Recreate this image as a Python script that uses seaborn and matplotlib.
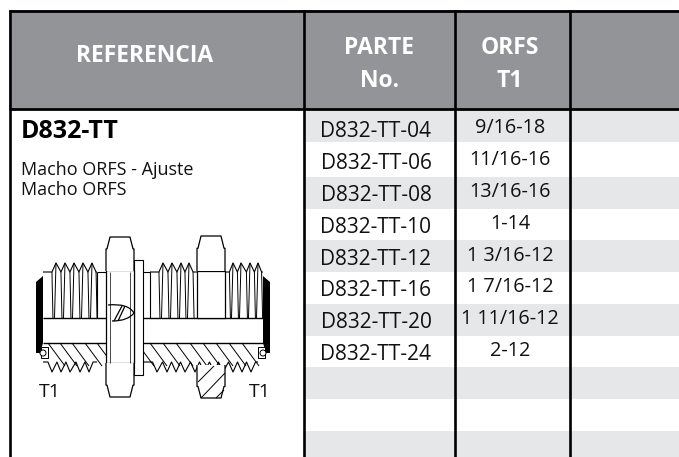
import matplotlib
matplotlib.use("Agg")
import matplotlib.pyplot as plt
from matplotlib.patches import Rectangle, Polygon, Circle, PathPatch
from matplotlib.path import Path
import numpy as np
import seaborn as sns

part_numbers = ["D832-TT-04", "D832-TT-06", "D832-TT-08", "D832-TT-10",
                "D832-TT-12", "D832-TT-16", "D832-TT-20", "D832-TT-24"]
t1_sizes = ["9/16-18", "11/16-16", "13/16-16", "1-14",
            "1 3/16-12", "1 7/16-12", "1 11/16-12", "2-12"]
band_flags = [1, 0, 1, 0, 1, 0, 1, 0, 1, 0, 1]
band_heights = [33, 35, 32, 31, 32, 32, 32, 31, 32, 32, 26]

W, H = 679, 457
HEADER_GREY = "#929497"
BAND_GREY = "#e6e7e8"
INK = "#000000"
TEXT = "#111111"

sns.set_theme(style="white")
plt.rcParams["font.family"] = ["Open Sans", "DejaVu Sans"]

fig = plt.figure(figsize=(W / 100, H / 100), dpi=100)

# striped rows, one matrix row per pixel so the uneven heights survive
band_ax = fig.add_axes([303 / W, 0, (W - 303) / W, (H - 109) / H])
stripes = np.repeat(band_flags, band_heights)[:, None]
sns.heatmap(stripes, ax=band_ax, cmap=["#ffffff", BAND_GREY], cbar=False,
            xticklabels=False, yticklabels=False, vmin=0, vmax=1)

ax = fig.add_axes([0, 0, 1, 1], zorder=2)
ax.set_xlim(0, W)
ax.set_ylim(H, 0)
ax.axis("off")
ax.patch.set_alpha(0)


def line(xs, ys, lw=0.8, color=INK, z=3):
    ax.plot(xs, ys, color=color, lw=lw, solid_capstyle="butt", zorder=z)


def threads_top(peaks, x0, x1, base=318, crest=263, root=272):
    xs, ys = [x0], [root]
    step = (peaks[1] - peaks[0]) / 2
    for p in peaks:
        xs += [p - step * 0.9, p]
        ys += [root, crest]
    xs += [peaks[-1] + step * 0.9, x1]
    ys += [root, root]
    line(xs, ys)
    for x, y in zip(xs[1:-1], ys[1:-1]):
        line([x, x - 1.5 if y == crest else x + 1], [y, base], lw=0.7)


def threads_bottom(roots, x0, x1, y0=362, root=372, crest=362):
    xs, ys = [x0], [y0]
    step = (roots[1] - roots[0]) / 2
    for p in roots:
        xs += [p - step * 0.9, p]
        ys += [crest, root]
    xs += [roots[-1] + step * 0.9, x1]
    ys += [crest, y0]
    line(xs, ys)


def hatch(x_starts, y0=343, dx=17, dy=23):
    for x in x_starts:
        line([x, x + dx], [y0, y0 + dy], lw=0.7)


def hex_cap(x0, x1, y_edge, y_tip):
    # rounded end of a nut seen from the side
    y_mid = y_tip + (y_edge - y_tip) * 0.35
    verts = [(x0, y_edge), (x0, y_mid), (x0 + 1, y_mid), (x0 + 4, y_tip),
             (x1 - 4, y_tip), (x1 - 1, y_mid), (x1, y_mid), (x1, y_edge)]
    codes = [Path.MOVETO, Path.LINETO, Path.LINETO, Path.LINETO,
             Path.LINETO, Path.LINETO, Path.LINETO, Path.LINETO]
    ax.add_patch(PathPatch(Path(verts, codes), fc="white", ec=INK, lw=0.9, zorder=5, joinstyle="round"))


# header block and grid lines
ax.add_patch(Rectangle((9, 10), W - 9, 99, fc=HEADER_GREY, ec="none", zorder=1))
line([9, W], [10.5, 10.5], lw=2.0, z=6)
line([9, W], [108.5, 108.5], lw=2.0, z=6)
for x in [9.5, 303.5, 454.5, 569.5]:
    line([x, x], [10, H], lw=1.9, z=6)

header_style = dict(color="white", fontweight="bold", ha="center", va="center", zorder=7)
ax.text(145, 55.5, "REFERENCIA", fontsize=16.5, **header_style)
ax.text(379, 47.5, "PARTE", fontsize=16.5, **header_style)
ax.text(379, 81, "No.", fontsize=16.5, **header_style)
ax.text(510, 47.5, "ORFS", fontsize=16.5, **header_style)
ax.text(510, 81, "T1", fontsize=16.5, **header_style)

# left cell text
ax.text(21, 131.5, "D832-TT", fontsize=18, fontweight="bold", color=INK, ha="left", va="center", zorder=7)
ax.text(21, 170, "Macho ORFS - Ajuste", fontsize=13, color=TEXT, ha="left", va="center", zorder=7)
ax.text(21, 190, "Macho ORFS", fontsize=13, color=TEXT, ha="left", va="center", zorder=7)

# table rows
for i, (part, size) in enumerate(zip(part_numbers, t1_sizes)):
    ax.text(376, 131.5 + 31.9 * i, part, fontsize=15, color=TEXT, ha="center", va="center", zorder=7)
    ax.text(510, 128 + 31.9 * i, size, fontsize=14.3, color=TEXT, ha="center", va="center", zorder=7)

# fitting drawing
line([43, 263], [318, 318], lw=1.0)
line([43, 263], [343, 343], lw=1.0)
threads_top([56, 65, 74, 83, 92], 43, 97)
threads_top([163, 172, 181, 189], 150, 197)
threads_top([233, 241, 250, 258], 225, 263)
line([97, 97], [272, 318])
line([97, 106], [272, 272])
line([143, 150], [272, 272])
line([150, 150], [272, 318])

threads_bottom([52, 61, 70, 80, 89], 43, 97)
threads_bottom([157, 167, 176, 185, 195, 204, 214, 223, 233, 242, 251], 143, 258)
hatch([48, 60, 72, 85, 97])
hatch([137, 150, 163, 176, 190, 203, 216, 229, 242])

# black end caps
ax.add_patch(Polygon([(36, 282), (43, 276), (43, 343), (40, 353), (36, 353)], fc=INK, ec="none", zorder=5))
ax.add_patch(Polygon([(263, 276), (270, 282), (270, 353), (266, 353), (263, 343)], fc=INK, ec="none", zorder=5))

# o-ring seats
for x, sign in [(43, 1), (263, -1)]:
    ax.add_patch(Rectangle((x - 2 if sign > 0 else x - 5, 347), 7, 11, fc="white", ec=INK, lw=0.7, zorder=6))
    ax.add_patch(Circle((x, 353), 3, fc="white", ec=INK, lw=0.7, zorder=7))

# main nut
ax.add_patch(Rectangle((134, 260), 9, 115, fc="white", ec=INK, lw=0.8, zorder=4))
ax.add_patch(Rectangle((106, 270), 28, 93, fc="white", ec=INK, lw=0.9, zorder=5))
hex_cap(106, 134, 271, 237)
hex_cap(106, 134, 363, 397)
line([110, 110], [272, 363], lw=0.5, z=6)
line([130, 130], [272, 363], lw=0.5, z=6)

# locknut
ax.add_patch(Rectangle((197, 271), 28, 47, fc="white", ec=INK, lw=0.9, zorder=5))
hex_cap(197, 225, 271, 236)
hex_cap(197, 225, 365, 398)
line([201, 225], [398, 373], lw=0.7, z=6)
line([216, 224], [398, 390], lw=0.7, z=6)
line([198, 214], [382, 366], lw=0.7, z=6)

# logo on the nut
logo = Path([(108, 305), (128, 303), (134, 313), (128, 321), (112, 321)],
            [Path.MOVETO, Path.CURVE3, Path.CURVE3, Path.CURVE3, Path.CURVE3])
ax.add_patch(PathPatch(logo, fc="none", ec=INK, lw=0.9, zorder=8))
line([114, 122], [321, 306], lw=0.9, z=8)
line([118, 125], [321, 306], lw=0.9, z=8)

ax.text(50, 392, "T1", fontsize=14, color=TEXT, ha="center", va="center", zorder=7)
ax.text(260, 392, "T1", fontsize=14, color=TEXT, ha="center", va="center", zorder=7)

fig.savefig("out.png", dpi=100)
